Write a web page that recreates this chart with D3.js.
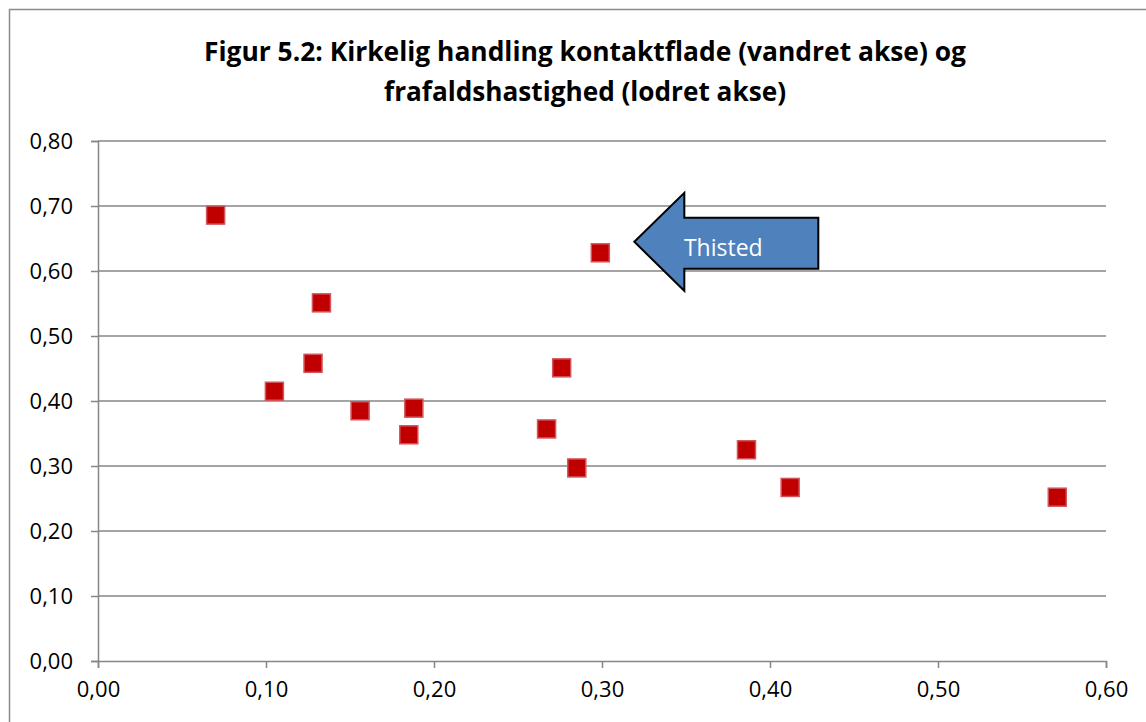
<!DOCTYPE html>
<html>
<head>
<meta charset="utf-8">
<script src="https://cdn.jsdelivr.net/npm/d3@7"></script>
<style>
  body { margin: 0; background: #fff; }
  svg { display: block; font-family: "Open Sans", "DejaVu Sans", sans-serif; }
</style>
</head>
<body>
<svg id="canvas" width="1146" height="722"></svg>
<script>
// data: contact surface (x) and drop-out rate (y)
let kontaktflade = [0.070, 0.133, 0.105, 0.128, 0.156, 0.185, 0.188, 0.267, 0.276, 0.285, 0.299, 0.386, 0.412, 0.571]
let frafald      = [0.686, 0.551, 0.415, 0.458, 0.385, 0.348, 0.389, 0.357, 0.451, 0.297, 0.628, 0.325, 0.267, 0.252]

let xTicks = [0, 0.1, 0.2, 0.3, 0.4, 0.5, 0.6]
let yTicks = [0, 0.1, 0.2, 0.3, 0.4, 0.5, 0.6, 0.7, 0.8]

let titleLines = ['Figur 5.2: Kirkelig handling kontaktflade (vandret akse) og', 'frafaldshastighed (lodret akse)']
let arrowLabel = 'Thisted'
let arrowTarget = [0.299, 0.628]

let canvas = d3.select('#canvas')
let fmt = (v) => d3.format('.2f')(v).replace('.', ',')

let x = d3.scaleLinear().domain([0, 0.6]).range([98, 1106])
let y = d3.scaleLinear().domain([0, 0.8]).range([661, 141])

// outer chart frame
canvas.append('rect')
    .attr('x', 9.5).attr('y', 9.5)
    .attr('width', 1150).attr('height', 730)
    .attr('fill', 'none')
    .attr('stroke', '#8c8c8c')
    .attr('stroke-width', 1.5)

// title
canvas.append('text')
    .attr('x', 585).attr('y', 61)
    .attr('text-anchor', 'middle')
    .attr('font-size', 26).attr('font-weight', 'bold')
    .attr('textLength', 762).attr('lengthAdjust', 'spacingAndGlyphs')
    .text(titleLines[0])
canvas.append('text')
    .attr('x', 585).attr('y', 101)
    .attr('text-anchor', 'middle')
    .attr('font-size', 26).attr('font-weight', 'bold')
    .attr('textLength', 402).attr('lengthAdjust', 'spacingAndGlyphs')
    .text(titleLines[1])

// horizontal gridlines
canvas.append('g')
    .selectAll('line')
    .data(yTicks.slice(1))
    .enter()
    .append('line')
    .attr('x1', x(0)).attr('x2', x(0.6))
    .attr('y1', (d) => y(d)).attr('y2', (d) => y(d))
    .attr('stroke', '#868686')
    .attr('stroke-width', 1.5)

// axes
let yAxis = canvas.append('g')
    .attr('transform', `translate(${x(0)},0)`)
    .call(d3.axisLeft(y).tickValues(yTicks).tickFormat(fmt).tickSize(7).tickPadding(18))
let xAxis = canvas.append('g')
    .attr('transform', `translate(0,${y(0)})`)
    .call(d3.axisBottom(x).tickValues(xTicks).tickFormat(fmt).tickSize(7).tickPadding(10))

;[xAxis, yAxis].forEach((ax) => {
    ax.select('.domain').attr('stroke', '#868686').attr('stroke-width', 1.5)
    ax.selectAll('.tick line').attr('stroke', '#868686').attr('stroke-width', 1.5)
    ax.selectAll('.tick text')
        .attr('fill', '#000')
        .attr('font-size', 22)
        .attr('font-family', '"Open Sans", sans-serif')
})
xAxis.selectAll('.tick text').attr('dy', '0.85em')

// markers
canvas.append('g')
    .selectAll('rect')
    .data(kontaktflade.map((v, i) => [v, frafald[i]]))
    .enter()
    .append('rect')
    .attr('x', (d) => x(d[0]) - 9)
    .attr('y', (d) => y(d[1]) - 9)
    .attr('width', 18).attr('height', 18)
    .attr('fill', '#c00000')
    .attr('stroke', '#d2555a')
    .attr('stroke-width', 1.5)

// arrow callout pointing at Thisted
let tipX = x(arrowTarget[0]) + 34
let tipY = y(arrowTarget[1]) - 11
let arrow = d3.path()
arrow.moveTo(tipX, tipY)
arrow.lineTo(tipX + 50, tipY - 49)
arrow.lineTo(tipX + 50, tipY - 24)
arrow.lineTo(tipX + 184, tipY - 24)
arrow.lineTo(tipX + 184, tipY + 27)
arrow.lineTo(tipX + 50, tipY + 27)
arrow.lineTo(tipX + 50, tipY + 49)
arrow.closePath()

canvas.append('path')
    .attr('d', arrow.toString())
    .attr('fill', '#4f81bd')
    .attr('stroke', '#000')
    .attr('stroke-width', 2)

canvas.append('text')
    .attr('x', tipX + 89).attr('y', tipY + 14)
    .attr('text-anchor', 'middle')
    .attr('fill', '#fff')
    .attr('font-size', 23)
    .text(arrowLabel)
</script>
</body>
</html>
